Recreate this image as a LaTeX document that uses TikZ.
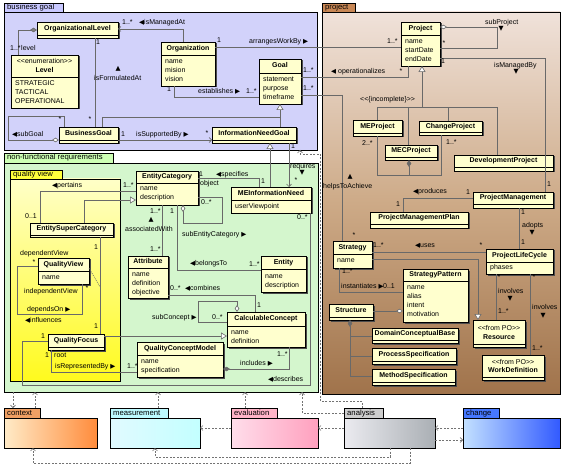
\documentclass[tikz,border=0pt]{standalone}
\usepackage{fontspec}
\setmainfont{Liberation Sans}
\newfontfamily\symf{DejaVu Sans}
\usetikzlibrary{arrows.meta}
\definecolor{clsfill}{RGB}{255,255,206}
\definecolor{lncol}{RGB}{105,105,105}
\definecolor{depcol}{RGB}{115,115,115}
\definecolor{cbgp}{RGB}{210,210,250}
\definecolor{cbgptab}{RGB}{200,200,255}
\definecolor{cnfr}{RGB}{212,246,205}
\definecolor{cnfrtab}{RGB}{205,255,180}
\definecolor{cqvtop}{RGB}{255,255,200}
\definecolor{cqvbot}{RGB}{255,250,30}
\definecolor{cqvtab}{RGB}{255,255,60}
\definecolor{cprjtop}{RGB}{240,226,218}
\definecolor{cprjmid}{RGB}{205,170,135}
\definecolor{cprjbot}{RGB}{160,115,75}
\definecolor{cprjtab}{RGB}{200,135,85}
\definecolor{cctxl}{RGB}{255,235,200}
\definecolor{cctxr}{RGB}{255,140,60}
\definecolor{cctxtab}{RGB}{240,160,100}
\definecolor{cmeasl}{RGB}{225,250,255}
\definecolor{cmeasr}{RGB}{195,255,255}
\definecolor{cmeastab}{RGB}{190,250,255}
\definecolor{cevall}{RGB}{255,222,235}
\definecolor{cevalr}{RGB}{255,160,190}
\definecolor{cevaltab}{RGB}{255,180,200}
\definecolor{canall}{RGB}{235,235,240}
\definecolor{canalr}{RGB}{170,175,180}
\definecolor{canaltab}{RGB}{205,205,205}
\definecolor{cchgl}{RGB}{195,225,255}
\definecolor{cchgr}{RGB}{50,90,255}
\definecolor{cchgtab}{RGB}{70,120,255}
\newcommand\TriL{{\symf\fontsize{6.5bp}{6.5bp}\selectfont ◀}}
\newcommand\TriR{{\symf\fontsize{6.5bp}{6.5bp}\selectfont ▶}}
\newcommand\TriU{{\symf\fontsize{6.5bp}{6.5bp}\selectfont ▲}}
\newcommand\TriD{{\symf\fontsize{6.5bp}{6.5bp}\selectfont ▼}}
\newcount\labn
\tikzset{
  cbox/.style={draw=black, line width=0.8bp, fill=clsfill, inner sep=0, outer sep=0},
  cline/.style={draw=black, line width=0.6bp},
  ctitle/.style={font=\fontsize{7bp}{8bp}\selectfont\bfseries, inner sep=0, text height=5bp, text depth=1.5bp},
  cattr/.style={font=\fontsize{7bp}{8bp}\selectfont, anchor=west, inner sep=0, text height=5bp, text depth=1.5bp},
  lab/.style={font=\fontsize{7bp}{8bp}\selectfont, inner sep=0, text height=5bp, text depth=1.5bp},
  labw/.style={lab, anchor=west},
  ptitle/.style={font=\fontsize{7.7bp}{8bp}\selectfont, inner sep=0, text height=5.5bp, text depth=1.5bp},
  pframe/.style={draw=black, line width=0.6bp, inner sep=0, outer sep=0},
  assoc/.style={draw=lncol, line width=0.6bp},
  gen/.style={assoc, -{Triangle[length=6bp,width=7bp,fill=white]}},
  nav/.style={assoc, -{Straight Barb[length=2.5bp,width=5bp]}},
  odia/.style={assoc, {Diamond[length=7bp,width=4.5bp,fill=white]}-},
  fdia/.style={assoc, {Diamond[length=7bp,width=4.5bp]}-},
  gdia/.style={assoc, {Diamond[length=7bp,width=4.5bp,fill=gray]}-},
  dep/.style={draw=depcol, line width=0.6bp, dash pattern=on 2bp off 1.5bp, -{Straight Barb[length=2.5bp,width=5bp]}},
}
\newcommand\umlclass[7]{%
  \fill[black!70] ({#2+1.5},{#3+1.5}) rectangle ({#4+1.5},{#5+1.5});
  \node[cbox, minimum width={(#4-#2)*1bp}, minimum height={(#5-#3)*1bp}] (#1) at ({(#2+#4)/2},{(#3+#5)/2}) {};
  \draw[cline] (#2,#6) -- (#4,#6);
  \node[ctitle] (#1t) at ({(#2+#4)/2},{(#3+#6)/2}) {#7};
}
\newcommand\umlpkg[9]{%
  \node[pframe, #9, minimum width={(#4-#2)*1bp}, minimum height={(#5-#3)*1bp}] (#1) at ({(#2+#4)/2},{(#3+#5)/2}) {};
  \node[pframe, fill=c#1tab, minimum width={(#6-#2)*1bp}, minimum height={(#3-#7)*1bp}] (#1tab) at ({(#2+#6)/2},{(#7+#3)/2}) {};
  \node[ptitle, anchor=west] (#1lab) at ({#2+3},{(#7+#3)/2}) {#8};
}
\newcommand\attrs[3]{\foreach \attrtxt [count=\attri from 0] in {#3} {\global\advance\labn by 1 \node[cattr] (a\the\labn) at (#1,{#2+9*\attri}) {\attrtxt};}}
\newcommand\labW[3]{\global\advance\labn by 1 \node[labw] (l\the\labn) at (#1,#2) {#3};}
\newcommand\labC[3]{\global\advance\labn by 1 \node[lab] (l\the\labn) at (#1,#2) {#3};}
\begin{document}
\begin{tikzpicture}[x=1bp,y=-1bp]
\useasboundingbox (0,0) rectangle (567,471);
\fill[white] (0,0) rectangle (567,471);
% ---------- packages
\umlpkg{bgp}{4}{12}{317}{150}{63}{3}{business goal}{fill=cbgp}
\umlpkg{nfr}{4}{163}{318}{392}{113}{153}{non-functional requirements}{fill=cnfr}
\umlpkg{qv}{10}{179}{120}{381}{62}{170}{quality view}{top color=cqvtop, bottom color=cqvbot}
\umlpkg{prj}{322}{12}{560}{394}{355}{3}{project}{top color=cprjtop, bottom color=cprjbot, middle color=cprjmid}
\umlpkg{ctx}{4}{418}{97}{448}{40}{408}{context}{left color=cctxl, right color=cctxr}
\umlpkg{meas}{110}{418}{200}{448}{168}{408}{measurement}{left color=cmeasl, right color=cmeasr}
\umlpkg{eval}{231}{418}{318}{448}{277}{408}{evaluation}{left color=cevall, right color=cevalr}
\umlpkg{anal}{344}{418}{435}{448}{383}{408}{analysis}{left color=canall, right color=canalr}
\umlpkg{chg}{463}{418}{560}{448}{499}{408}{change}{left color=cchgl, right color=cchgr}
% ---------- classes: business goal
\umlclass{orglevel}{37}{22}{118}{38}{35}{OrganizationalLevel}
\umlclass{level}{11}{55}{78}{108}{77}{}
\labC{44.5}{62}{{<}{<}enumeration{>}{>}}
\node[ctitle] (levelname) at (44.5,71) {Level};
\attrs{15}{84}{STRATEGIC,TACTICAL,OPERATIONAL}
\umlclass{org}{161}{42}{215}{86}{55}{Organization}
\attrs{165}{62}{name,mision,vision}
\umlclass{goal}{259}{59}{301}{104}{73}{Goal}
\attrs{263}{80}{statement,purpose,timeframe}
\umlclass{bgoal}{59}{127}{118}{143}{140}{BusinessGoal}
\umlclass{ingoal}{212}{127}{296}{143}{140}{InformationNeedGoal}
% ---------- classes: project
\umlclass{project}{401}{22}{440}{66}{35}{Project}
\attrs{405}{42}{name,startDate,endDate}
\umlclass{meproj}{353}{120}{402}{136}{133}{MEProject}
\umlclass{chproj}{419}{121}{482}{135}{132}{ChangeProject}
\umlclass{mecproj}{385}{145}{437}{160}{157}{MECProject}
\umlclass{devproj}{454}{155}{553}{171}{167}{DevelopmentProject}
\umlclass{pm}{473}{192}{553}{208}{204}{ProjectManagement}
\umlclass{pmp}{370}{212}{468}{228}{224}{ProjectManagementPlan}
\umlclass{plc}{486}{249}{553}{274}{262}{ProjectLifeCycle}
\attrs{490}{268}{phases}
\umlclass{strategy}{333}{241}{372}{268}{254}{Strategy}
\attrs{337}{261}{name}
\umlclass{spattern}{403}{269}{468}{322}{281}{StrategyPattern}
\attrs{407}{288}{name,alias,intent,motivation}
\umlclass{structure}{329}{304}{373}{320}{317}{Structure}
\umlclass{dcb}{372}{328}{458}{343}{340}{DomainConceptualBase}
\umlclass{pspec}{372}{348}{456}{364}{361}{ProcessSpecification}
\umlclass{mspec}{372}{369}{455}{385}{382}{MethodSpecification}
\umlclass{resource}{473}{320}{525}{347}{344}{}
\labC{499}{329}{{<}{<}from PO{>}{>}}
\node[ctitle] (resname) at (499,338) {Resource};
\umlclass{workdef}{482}{355}{544}{380}{377}{}
\labC{513}{363}{{<}{<}from PO{>}{>}}
\node[ctitle] (wdname) at (513,371) {WorkDefinition};
% ---------- classes: nfr
\umlclass{entcat}{136}{171}{198}{205}{183}{EntityCategory}
\attrs{140}{189}{name,description}
\umlclass{meinfo}{231}{187}{311}{213}{200}{MEInformationNeed}
\attrs{235}{207}{userViewpoint}
\umlclass{attr}{128}{256}{168}{298}{268}{Attribute}
\attrs{132}{275}{name,definition,objective}
\umlclass{entity}{261}{256}{306}{292}{269}{Entity}
\attrs{265}{277}{name,description}
\umlclass{calc}{227}{312}{305}{347}{326}{CalculableConcept}
\attrs{231}{333}{name,definition}
\umlclass{qcm}{137}{342}{223}{377}{355}{QualityConceptModel}
\attrs{141}{362}{name,specification}
\umlclass{esc}{30}{223}{113}{237}{235}{EntitySuperCategory}
\umlclass{qview}{38}{258}{89}{284}{271}{QualityView}
\attrs{42}{278}{name}
\umlclass{qfocus}{48}{334}{104}{350}{347}{QualityFocus}
% ---------- connectors: business goal
\draw[gdia] (orglevel.west |- 0,30) -- (18,30) -- (level.north -| 18,0);
\draw[nav] (org.north -| 183,0) -- (183,29) -- (orglevel.east |- 0,29);
\draw[assoc] (orglevel.south -| 95,0) -- (bgoal.north -| 95,0);
\draw[odia] (bgoal.west |- 0,140) -- (8,140) -- (8,116) -- (64,116) -- (bgoal.north -| 64,0);
\draw[assoc] (org.south -| 174,0) -- (174,97) -- (goal.west |- 0,97);
\draw[assoc] (org.east |- 0,47) -- (project.west |- 0,47);
\draw[assoc] (goal.east |- 0,77) -- (408,77) -- (project.south -| 408,0);
\draw[assoc] (goal.east |- 0,95) -- (342,95) -- (strategy.north -| 342,0);
\draw[gen] (ingoal.north -| 280,0) -- (goal.south -| 280,0);
\draw[assoc] (bgoal.north -| 102,0) -- (102,117) -- (280,117);
\draw[nav] (bgoal.east |- 0,140) -- (ingoal.west |- 0,140);
\draw[gen] (meinfo.north -| 270,0) -- (ingoal.south -| 270,0);
\draw[nav] (ingoal.south -| 289,0) -- (meinfo.north -| 289,0);
% ---------- connectors: nfr
\draw[assoc] (entcat.east |- 0,178) -- (259,178) -- (meinfo.north -| 259,0);
\draw[odia] (entcat.south -| 183,0) -- (183,223) -- (222,223) -- (222,197) -- (entcat.east |- 0,197);
\draw[assoc] (entcat.south -| 162,0) -- (attr.north -| 162,0);
\draw[assoc] (entcat.south -| 177,0) -- (177,270) -- (entity.west |- 0,270);
\draw[assoc] (attr.east |- 0,295) -- (255,295) -- (calc.north -| 255,0);
\draw[odia] (calc.north -| 237,0) -- (237,301) -- (198,301) -- (198,322) -- (calc.west |- 0,322);
\draw[gen] (qfocus.east |- 0,336) -- (calc.west |- 0,336);
\draw[fdia] (qcm.east |- 0,369) -- (289,369) -- (calc.south -| 289,0);
\draw[assoc] (meinfo.south -| 310,0) -- (310,385) -- (22,385) -- (22,341) -- (qfocus.west |- 0,341);
\draw[assoc] (qfocus.south -| 51,0) -- (51,372) -- (qcm.west |- 0,372);
\draw[assoc] (esc.north -| 40,0) -- (40,191) -- (entcat.west |- 0,191);
\draw[gen] (esc.north -| 84,0) -- (84,200) -- (entcat.west |- 0,200);
\draw[assoc] (esc.south -| 100,0) -- (qfocus.north -| 100,0);
\draw[assoc, dash pattern=on 1bp off 1bp] (qview.east |- 0,268) -- (100,287);
\draw[assoc] (qview.west |- 0,266) -- (17,266) -- (17,314) -- (82,314) -- (qview.south -| 82,0);
% ---------- connectors: project
\draw[odia] (project.east |- 0,27) -- (497,27) -- (497,48) -- (project.east |- 0,48);
\draw[assoc] (project.east |- 0,58) -- (545,58) -- (pm.north -| 545,0);
\draw[assoc] (meproj.north -| 377,0) -- (377,107) -- (497,107) -- (devproj.north -| 497,0);
\draw[assoc] (mecproj.north -| 408,0) -- (408,107);
\draw[assoc] (chproj.north -| 448,0) -- (448,107);
\draw[gen] (422,107) -- (project.south -| 422,0);
\draw[fdia] (mecproj.south -| 409,0) -- (409,175);
\draw[assoc] (meproj.south -| 377,0) -- (377,175) -- (441,175) -- (chproj.south -| 441,0);
\draw[assoc] (pm.west |- 0,198) -- (403,198) -- (pmp.north -| 403,0);
\draw[assoc] (pm.south -| 519,0) -- (plc.north -| 519,0);
\draw[assoc] (strategy.east |- 0,252) -- (plc.west |- 0,252);
\draw[gen] (strategy.east |- 0,259) -- (478,259) -- (resource.north -| 478,0);
\draw[assoc] (strategy.south -| 339,0) -- (339,292) -- (spattern.west |- 0,292);
\draw[odia] (spattern.west |- 0,311) -- (structure.east |- 0,311);
\draw[fdia] (structure.south -| 350,0) -- (350,376) -- (mspec.west |- 0,376);
\draw[assoc] (350,336) -- (dcb.west |- 0,336);
\draw[assoc] (350,356) -- (pspec.west |- 0,356);
\draw[assoc] (plc.south -| 496,0) -- (resource.north -| 496,0);
\draw[assoc] (plc.south -| 530,0) -- (workdef.north -| 530,0);
% ---------- dependencies
\draw[dep] (nfr.south -| 13,0) -- (ctxtab.north -| 13,0);
\draw[dep] (ctxtab.north -| 35,0) -- (nfr.south -| 35,0);
\draw[dep] (meastab.north -| 158,0) -- (nfr.south -| 158,0);
\draw[dep] (evaltab.north -| 245,0) -- (nfr.south -| 245,0);
\draw[dep] (analtab.west |- 0,413) -- (302,413) -- (nfr.south -| 302,0);
\draw[dep] (analtab.north -| 362,0) -- (362,401) -- (320,401) -- (320,154) -- (300,154) -- (bgp.south -| 300,0);
\draw[dep] (eval.west |- 0,428) -- (meas.east |- 0,428);
\draw[dep] (anal.west |- 0,428) -- (eval.east |- 0,428);
\draw[dep] (chg.west |- 0,428) -- (anal.east |- 0,428);
\draw[dep] (anal.east |- 0,440) -- (chg.west |- 0,440);
\draw[dep] (anal.south -| 390,0) -- (390,457) -- (155,457) -- (meas.south -| 155,0);
\draw[dep] (anal.south -| 410,0) -- (410,463) -- (33,463) -- (ctx.south -| 33,0);
% ---------- labels: business goal
\labW{10}{49}{1..*}
\labW{21}{49}{level}
\labW{122}{23}{1..*}
\labW{139}{23}{\TriL isManagedAt}
\labC{98}{43}{1}
\labC{118}{69}{\TriU}
\labW{94}{79}{isFormulatedAt}
\labC{90}{120}{*}
\labC{60}{120}{*}
\labW{12}{135}{\TriL subGoal}
\labW{121}{135}{1}
\labW{136}{135}{isSupportedBy \TriR}
\labC{207}{134}{*}
\labC{219}{41}{1}
\labW{249}{42}{arrangesWorkBy \TriR}
\labW{387}{42}{1..*}
\labC{169}{90}{1}
\labW{198}{92}{establishes \TriR}
\labW{246}{92}{1..*}
\labW{303}{71}{1..*}
\labW{331}{72}{\TriL{} operationalizes}
\labC{401}{72}{*}
\labW{303}{89}{1..*}
\labC{350}{177}{\TriU}
\labW{323}{187}{helpsToAchieve}
\labC{354}{236}{*}
\labC{293}{147}{1}
\labW{290}{167}{requires}
\labC{302}{173}{\TriD}
\labC{296}{181}{*}
% ---------- labels: nfr
\labC{201}{175}{1}
\labW{216}{175}{\TriL specifies}
\labW{200}{184}{object}
\labC{263}{182}{1}
\labW{201}{203}{0..*}
\labW{182}{235}{subEntityCategory \TriR}
\labW{150}{212}{1..*}
\labC{151}{220}{\TriU}
\labW{125}{230}{associatedWith}
\labW{150}{250}{1..*}
\labC{172}{212}{1}
\labW{190}{264}{\TriL belongsTo}
\labW{249}{265}{1..*}
\labW{170}{289}{0..*}
\labW{185}{289}{\TriL combines}
\labC{259}{306}{1}
\labW{152}{318}{subConcept \TriR}
\labW{212}{318}{0..*}
\labW{240}{364}{includes \TriR}
\labW{277}{355}{1..*}
\labW{297}{218}{0..*}
\labW{268}{380}{\TriL describes}
\labC{43}{337}{1}
\labC{47}{356}{1}
\labW{54}{356}{root}
\labW{55}{367}{isRepresentedBy \TriR}
\labW{127}{367}{1..*}
\labW{52}{186}{\TriL pertains}
\labW{123}{186}{1..*}
\labW{25}{217}{0..1}
\labC{96}{248}{1}
\labC{96}{327}{1}
\labW{25}{321}{\TriL influences}
\labW{20}{254}{dependentView}
\labC{34}{263}{*}
\labW{24}{292}{independentView}
\labC{87}{289}{*}
\labW{27}{310}{dependsOn \TriR}
% ---------- labels: project
\labW{485}{23}{subProject}
\labC{501}{29}{\TriD}
\labC{444}{44}{*}
\labC{443}{62}{1}
\labW{494}{66}{isManagedBy}
\labC{516}{72}{\TriD}
\labC{549}{185}{1}
\labW{360}{100}{{<}{<}\{incomplete\}{>}{>}}
\labW{362}{144}{2..*}
\labW{446}{143}{1..*}
\labW{413}{192}{\TriL produces}
\labC{468}{193}{1}
\labC{398}{205}{1}
\labC{523}{213}{1}
\labW{522}{226}{adopts}
\labC{532}{233}{\TriD}
\labC{523}{243}{1}
\labW{373}{246}{1..*}
\labW{415}{246}{\TriL uses}
\labC{481}{246}{*}
\labW{342}{272}{1..*}
\labW{341}{287}{instantiates \TriR}
\labW{383}{287}{0..1}
\labC{499}{278}{*}
\labW{498}{292}{involves}
\labC{510}{299}{\TriD}
\labW{498}{312}{1..*}
\labC{534}{278}{*}
\labW{532}{308}{involves}
\labC{543}{316}{\TriD}
\labW{532}{349}{1..*}
\end{tikzpicture}
\end{document}
